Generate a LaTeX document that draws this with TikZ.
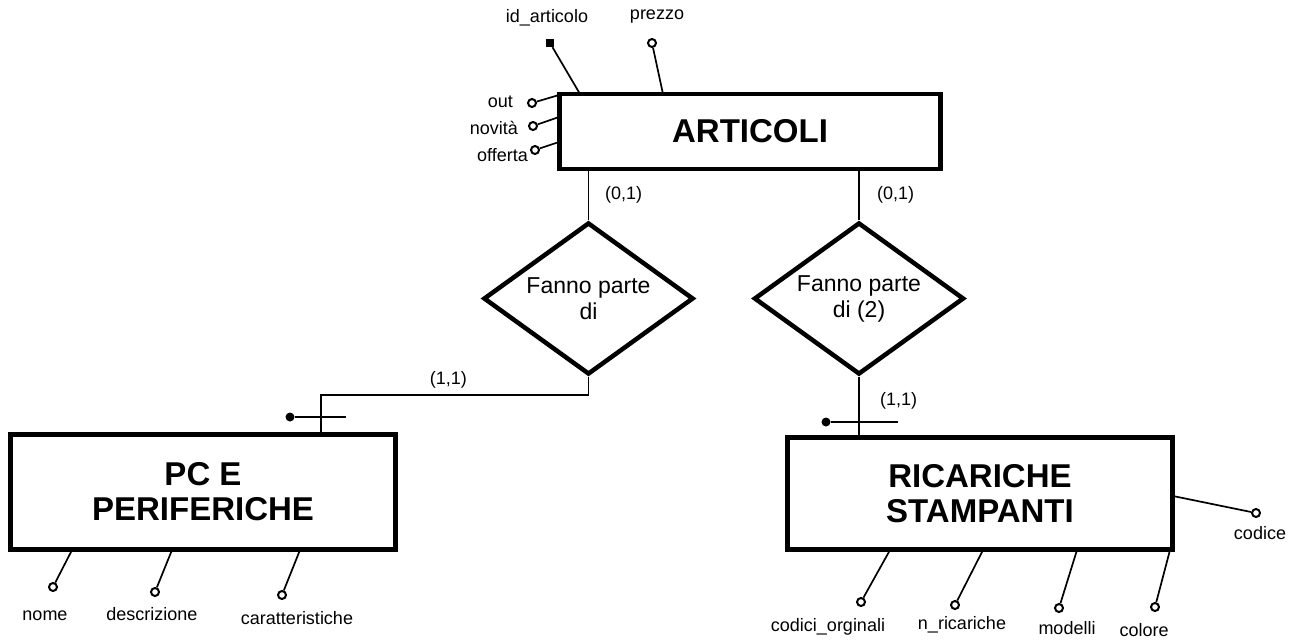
\documentclass[tikz,border=0pt]{standalone}
\usepackage{fontspec}
\setmainfont{Liberation Sans}
\usetikzlibrary{shapes.geometric}

\begin{document}
\begin{tikzpicture}[x=1pt,y=-1pt,
  entity/.style={draw, line width=4.5pt, inner sep=0pt, align=center,
    font=\fontsize{33}{35}\selectfont\bfseries},
  relation/.style={draw, diamond, aspect=1.4, line width=4.5pt, inner sep=0pt,
    align=center, minimum width=210pt, minimum height=152pt,
    font=\fontsize{23}{26}\selectfont},
  link/.style={line width=1.5pt},
  attrline/.style={line width=1.7pt},
  attr/.style={circle, draw, line width=2pt, fill=white, minimum size=8pt, inner sep=0pt},
  keyattr/.style={rectangle, fill=black, minimum size=8pt, inner sep=0pt},
  keydot/.style={circle, fill=black, minimum size=9pt, inner sep=0pt},
  lbl/.style={inner sep=0pt, font=\fontsize{18}{20}\selectfont},
]
\useasboundingbox (0,0) rectangle (1301,641);

% entities
\node[entity, minimum width=381pt, minimum height=75pt] (art) at (750,131.5) {ARTICOLI};
\node[entity, minimum width=385pt, minimum height=115pt] (pc) at (203,492) {PC E\\PERIFERICHE};
\node[entity, minimum width=385pt, minimum height=112pt] (rs) at (980,493.5) {RICARICHE\\STAMPANTI};

% relationships
\node[relation] (d1) at (588.5,298.5) {Fanno parte\\di};
\node[relation] (d2) at (859,298.5) {Fanno parte\\di (2)};

% links between entities and relationships
\draw[link] (d1.north |- art.south) -- (d1.north);
\draw[link] (d2.north |- art.south) -- (d2.north);
\coordinate (pcj) at (321,395);
\draw[link] (d1.south) |- (pcj) -- (pcj |- pc.north);
\draw[link] (d2.south) -- (d2.south |- rs.north);

% cardinalities
\node[lbl, anchor=west] (c1) at (605,195) {(0,1)};
\node[lbl, anchor=west] (c2) at (877,195) {(0,1)};
\node[lbl, anchor=east] (c3) at (467,380) {(1,1)};
\node[lbl, anchor=west] (c4) at (880,401) {(1,1)};

% external identifiers
\node[keydot] (pcdot) at (290,417) {};
\coordinate (pcbar) at (346,417);
\draw[link] (pcdot) -- (pcbar);
\node[keydot] (rsdot) at (826,422) {};
\coordinate (rsbar) at (898,422);
\draw[link] (rsdot) -- (rsbar);

% attributes of ARTICOLI
\coordinate (art-id) at (580,94);
\coordinate (art-pr) at (663,94);
\coordinate (art-out) at (559,95);
\coordinate (art-nov) at (559,117);
\coordinate (art-off) at (559,142);
\node[keyattr] (a-id) at (550,43) {};
\node[attr] (a-pr) at (652,43) {};
\node[attr] (a-out) at (532,103) {};
\node[attr] (a-nov) at (533,126) {};
\node[attr] (a-off) at (535,150) {};
\draw[attrline] (art-id) -- (a-id);
\draw[attrline] (art-pr) -- (a-pr);
\draw[attrline] (art-out) -- (a-out);
\draw[attrline] (art-nov) -- (a-nov);
\draw[attrline] (art-off) -- (a-off);
\node[lbl] (t-id) at (547,18) {id\_articolo};
\node[lbl] (t-pr) at (657,17) {prezzo};
\node[lbl, anchor=east] (t-out) at (513,102) {out};
\node[lbl, anchor=east] (t-nov) at (518,128) {novità};
\node[lbl, anchor=east] (t-off) at (528,155) {offerta};

% attributes of PC E PERIFERICHE
\coordinate (pc-nome) at (72,550);
\coordinate (pc-desc) at (172,550);
\coordinate (pc-car) at (300,550);
\node[attr] (p-nome) at (53,587) {};
\node[attr] (p-desc) at (155,592) {};
\node[attr] (p-car) at (282,595) {};
\draw[attrline] (pc-nome) -- (p-nome);
\draw[attrline] (pc-desc) -- (p-desc);
\draw[attrline] (pc-car) -- (p-car);
\node[lbl] (t-nome) at (45,616) {nome};
\node[lbl] (t-desc) at (152,614) {descrizione};
\node[lbl] (t-car) at (297,618) {caratteristiche};

% attributes of RICARICHE STAMPANTI
\coordinate (rs-cod) at (890,550);
\coordinate (rs-nr) at (983,550);
\coordinate (rs-mod) at (1077,550);
\coordinate (rs-col) at (1170,550);
\coordinate (rs-codice) at (1173,496);
\node[attr] (r-cod) at (861,602) {};
\node[attr] (r-nr) at (955,605) {};
\node[attr] (r-mod) at (1059,608) {};
\node[attr] (r-col) at (1155,607) {};
\node[attr] (r-codice) at (1256,513) {};
\draw[attrline] (rs-cod) -- (r-cod);
\draw[attrline] (rs-nr) -- (r-nr);
\draw[attrline] (rs-mod) -- (r-mod);
\draw[attrline] (rs-col) -- (r-col);
\draw[attrline] (rs-codice) -- (r-codice);
\node[lbl] (t-cod) at (828,627) {codici\_orginali};
\node[lbl] (t-nr) at (962,625) {n\_ricariche};
\node[lbl] (t-mod) at (1067,628) {modelli};
\node[lbl] (t-col) at (1144,630) {colore};
\node[lbl] (t-codice) at (1260,533) {codice};
\end{tikzpicture}
\end{document}
